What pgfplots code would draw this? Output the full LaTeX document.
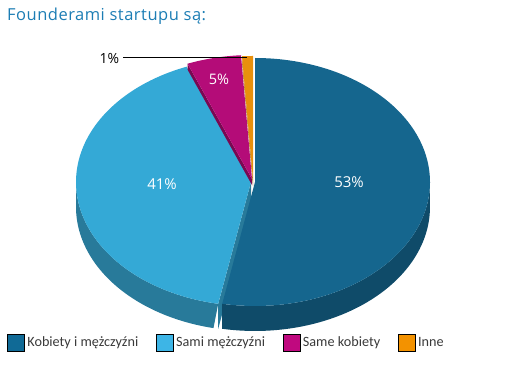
\documentclass[border=0pt]{standalone}
\usepackage{pgfplots}
\usepackage{pgfplotstable}
\pgfplotsset{compat=1.18}
\usepackage{fontspec}
\setmainfont{Open Sans}
\newfontfamily\titlefont[LetterSpace=3]{Open Sans}
\newfontfamily\legfont{Carlito}
\definecolor{cA}{HTML}{15668E}
\definecolor{cAs}{HTML}{0F4B69}
\definecolor{cB}{HTML}{34A9D6}
\definecolor{cBs}{HTML}{287A9A}
\definecolor{cC}{HTML}{B40C78}
\definecolor{cCs}{HTML}{7A0852}
\definecolor{cD}{HTML}{E8900C}
\definecolor{cDs}{HTML}{A66508}
\definecolor{lA}{HTML}{106A96}
\definecolor{lB}{HTML}{3DB5E6}
\definecolor{lC}{HTML}{C0097F}
\definecolor{lD}{HTML}{F39200}
\definecolor{titlec}{HTML}{1C7DB4}
\definecolor{textc}{HTML}{3A3A3A}

\pgfplotstableread{
share
53
41
5
1
}\piedata

\begin{document}%
\begin{tikzpicture}
\pgfplotstablegetelem{0}{share}\of\piedata\let\vA\pgfplotsretval
\pgfplotstablegetelem{1}{share}\of\piedata\let\vB\pgfplotsretval
\pgfplotstablegetelem{2}{share}\of\piedata\let\vC\pgfplotsretval
\pgfplotstablegetelem{3}{share}\of\piedata\let\vD\pgfplotsretval
\pgfmathsetmacro\aAB{90-3.6*\vA}
\pgfmathsetmacro\aBC{\aAB-3.6*\vB}
\pgfmathsetmacro\aCD{\aBC-3.6*\vC}
\pgfmathsetmacro\aDE{\aCD-3.6*\vD}
\def\rx{175}\def\ry{124}\def\dep{25}
% slice centres (offsets = explosion)
\def\Acx{255}\def\Acy{184}
\def\Bcx{251}\def\Bcy{184}
\def\Ccx{252}\def\Ccy{187}
\def\Dcx{253}\def\Dcy{186}
% light blue radial face at boundary aAB
\pgfmathsetmacro\BRx{\Bcx+\rx*cos(\aAB)}
\pgfmathsetmacro\BRy{\Bcy+\ry*sin(\aAB)}
\pgfmathsetmacro\BRyd{\BRy-\dep}
\pgfmathsetmacro\Bcyd{\Bcy-\dep}
% magenta radial face at boundary aBC
\pgfmathsetmacro\CRx{\Ccx+\rx*cos(\aBC)}
\pgfmathsetmacro\CRy{\Ccy+\ry*sin(\aBC)}
\pgfmathsetmacro\CRyd{\CRy-6}
\pgfmathsetmacro\Ccyd{\Ccy-6}
% orange radial face at boundary aCD
\pgfmathsetmacro\DRx{\Dcx+\rx*cos(\aCD)}
\pgfmathsetmacro\DRy{\Dcy+\ry*sin(\aCD)}
\pgfmathsetmacro\DRyd{\DRy-6}
\pgfmathsetmacro\Dcyd{\Dcy-6}
\begin{axis}[
  scale only axis, width=520pt, height=366pt,
  xmin=0, xmax=520, ymin=0, ymax=366,
  hide axis, clip=false,
  legend image code/.code={\fill[#1] (0pt,-8.5pt) rectangle (17pt,8.5pt);},
  legend columns=4,
  legend style={draw=none, fill=none, at={(axis cs:7,23.5)}, anchor=west,
    inner sep=0pt, outer sep=0pt,
    font=\legfont\fontsize{14.2}{16}\selectfont, text=textc,
    nodes={inner sep=0pt},
    /tikz/every odd column/.append style={column sep=3pt},
    /tikz/every even column/.append style={column sep=17.5pt}},
]
\path (rel axis cs:0,0) rectangle (rel axis cs:1,1);
% --- side rims (front half)
\addplot[fill=cBs, draw=none, domain=0:2, samples=101, variable=\u, forget plot]
 ({\Bcx+\rx*cos(\u<=1 ? (-180+\u*(\aAB+180)) : (\aAB-(\u-1)*(\aAB+180)))},
  {\Bcy+\ry*sin(\u<=1 ? (-180+\u*(\aAB+180)) : (\aAB-(\u-1)*(\aAB+180))) - (\u>1 ? \dep : 0)});
\addplot[fill=cBs, draw=none, forget plot] coordinates
 {(\Bcx,\Bcy) (\BRx,\BRy) (\BRx,\BRyd) (\Bcx,\Bcyd)} -- cycle;
\addplot[fill=cAs, draw=none, domain=0:2, samples=101, variable=\u, forget plot]
 ({\Acx+\rx*cos(\u<=1 ? (\aAB+\u*(0-\aAB)) : (0-(\u-1)*(0-\aAB)))},
  {\Acy+\ry*sin(\u<=1 ? (\aAB+\u*(0-\aAB)) : (0-(\u-1)*(0-\aAB))) - (\u>1 ? \dep : 0)});
% --- top faces
\addplot[fill=cB, draw=none, domain=\aBC:\aAB, samples=90, variable=\t, forget plot]
 ({\Bcx+\rx*cos(\t)},{\Bcy+\ry*sin(\t)}) -- (axis cs:\Bcx,\Bcy) -- cycle;
\addplot[fill=cCs, draw=none, forget plot] coordinates
 {(\Ccx,\Ccy) (\CRx,\CRy) (\CRx,\CRyd) (\Ccx,\Ccyd)} -- cycle;
\addplot[fill=cC, draw=none, domain=\aCD:\aBC, samples=30, variable=\t, forget plot]
 ({\Ccx+\rx*cos(\t)},{\Ccy+\ry*sin(\t)}) -- (axis cs:\Ccx,\Ccy) -- cycle;
\addplot[fill=cDs, draw=none, forget plot] coordinates
 {(\Dcx,\Dcy) (\DRx,\DRy) (\DRx,\DRyd) (\Dcx,\Dcyd)} -- cycle;
\addplot[fill=cD, draw=none, domain=\aDE:\aCD, samples=10, variable=\t, forget plot]
 ({\Dcx+\rx*cos(\t)},{\Dcy+\ry*sin(\t)}) -- (axis cs:\Dcx,\Dcy) -- cycle;
\addplot[fill=cA, draw=none, domain=\aAB:90, samples=120, variable=\t, forget plot]
 ({\Acx+\rx*cos(\t)},{\Acy+\ry*sin(\t)}) -- (axis cs:\Acx,\Acy) -- cycle;
% --- leader line for 1%
\addplot[black, line width=0.9pt, forget plot] coordinates {(123,308.5) (247,308.5)};
% --- labels
\node[text=white, font=\fontsize{15}{18}\selectfont] at (axis cs:349,184) {53\%};
\node[text=white, font=\fontsize{15}{18}\selectfont] at (axis cs:162,182) {41\%};
\node[text=white, font=\fontsize{14.5}{17}\selectfont] at (axis cs:219,287) {5\%};
\node[text=black, font=\fontsize{14}{17}\selectfont] at (axis cs:109.5,307.5) {1\%};
\node[anchor=base west, text=titlec, font=\titlefont\fontsize{16.5}{19}\selectfont, inner sep=0pt] at (axis cs:7,345) {Founderami startupu są:};
% --- legend
\addlegendimage{fill=lA}\addlegendentry{Kobiety i mężczyźni}
\addlegendimage{fill=lB}\addlegendentry{Sami mężczyźni}
\addlegendimage{fill=lC}\addlegendentry{Same kobiety}
\addlegendimage{fill=lD}\addlegendentry{Inne}
\end{axis}
\end{tikzpicture}%
\end{document}
